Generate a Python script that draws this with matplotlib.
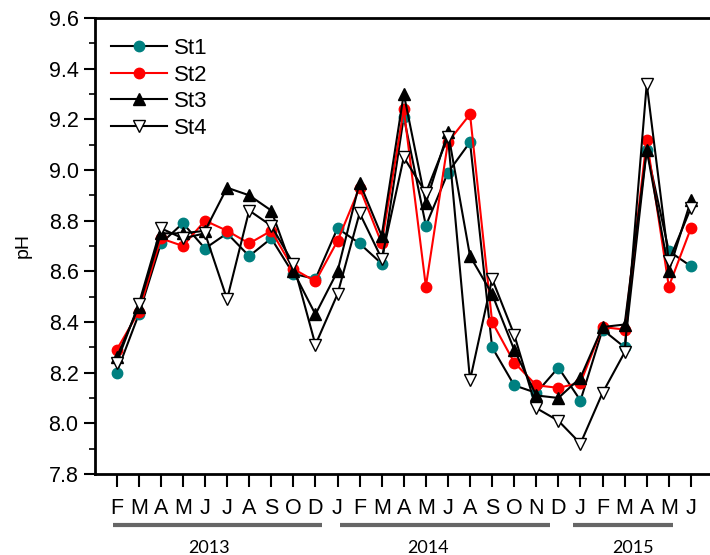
"""
Monthly pH at four stations (St1-St4), Feb 2013 to Jun 2015.
"""

import matplotlib
matplotlib.use("Agg")
import matplotlib.pyplot as plt
import matplotlib.transforms as mtransforms
from matplotlib.ticker import MultipleLocator

plt.rcParams["font.family"] = ["Liberation Sans", "DejaVu Sans"]

# Month labels along the x axis (Feb 2013 .. Jun 2015 as printed)
months = ["F", "M", "A", "M", "J", "J", "A", "S", "O", "D",
          "J", "F", "M", "A", "M", "J", "A", "S", "O", "N", "D",
          "J", "F", "M", "A", "M", "J"]

st1 = [8.20, 8.43, 8.71, 8.79, 8.69, 8.75, 8.66, 8.73, 8.59, 8.57,
       8.77, 8.71, 8.63, 9.21, 8.78, 8.99, 9.11, 8.30, 8.15, 8.12, 8.22,
       8.09, 8.37, 8.30, 9.08, 8.68, 8.62]
st2 = [8.29, 8.44, 8.73, 8.70, 8.80, 8.76, 8.71, 8.76, 8.61, 8.56,
       8.72, 8.93, 8.71, 9.24, 8.54, 9.11, 9.22, 8.40, 8.24, 8.15, 8.14,
       8.16, 8.38, 8.37, 9.12, 8.54, 8.77]
st3 = [8.26, 8.46, 8.75, 8.75, 8.76, 8.93, 8.90, 8.84, 8.60, 8.43,
       8.60, 8.95, 8.74, 9.30, 8.87, 9.15, 8.66, 8.51, 8.29, 8.11, 8.10,
       8.18, 8.38, 8.39, 9.08, 8.60, 8.88]
st4 = [8.24, 8.47, 8.77, 8.73, 8.75, 8.49, 8.84, 8.78, 8.63, 8.31,
       8.51, 8.83, 8.65, 9.05, 8.91, 9.13, 8.17, 8.57, 8.35, 8.06, 8.01,
       7.92, 8.12, 8.28, 9.34, 8.64, 8.85]

# Year groups: label and (first, last) month position of the underline
years = ["2013", "2014", "2015"]
year_spans = [(0.83, 10.3), (11.1, 20.6), (21.66, 26.2)]
year_centers = [5.2, 15.1, 24.4]

x = list(range(1, len(months) + 1))

fig = plt.figure(figsize=(7.10, 5.55), dpi=100)
ax = fig.add_axes([0.1332, 0.146, 0.871, 0.8216])

ax.plot(x, st1, color="black", lw=1.5, marker="o", ms=7.5,
        mfc="#008080", mec="#008080", label="St1", zorder=3)
ax.plot(x, st2, color="red", lw=1.5, marker="o", ms=7.5,
        mfc="red", mec="red", label="St2", zorder=3)
ax.plot(x, st3, color="black", lw=1.5, marker="^", ms=9,
        mfc="black", mec="black", label="St3", zorder=3)
ax.plot(x, st4, color="black", lw=1.5, marker="v", ms=9,
        mfc="white", mec="black", mew=1.0, label="St4", zorder=3)

ax.set_xlim(0, 28)
ax.set_ylim(7.8, 9.6)
ax.set_xticks(x)
ax.set_xticklabels(months, fontsize=15.5)
ax.yaxis.set_major_locator(MultipleLocator(0.2))
ax.yaxis.set_minor_locator(MultipleLocator(0.1))
ax.yaxis.set_major_formatter(plt.FuncFormatter(lambda v, p: f"{v:.1f}"))
ax.tick_params(axis="y", labelsize=15.5, direction="out", length=8, width=1.5)
ax.tick_params(axis="y", which="minor", direction="out", length=4, width=1.2)
ax.tick_params(axis="x", direction="out", length=9, width=1.5, pad=8)
ax.set_ylabel("pH", fontsize=14, labelpad=12)

for side in ["left", "bottom", "top", "right"]:
    ax.spines[side].set_linewidth(2)

leg = ax.legend(loc="upper left", frameon=False, fontsize=16,
                handlelength=2.5, handletextpad=0.3, labelspacing=0.25,
                bbox_to_anchor=(-0.005, 1.0))

# Year underlines and labels below the month ticks
trans = mtransforms.blended_transform_factory(ax.transData, ax.transAxes)
for label, (x0, x1), xc in zip(years, year_spans, year_centers):
    ax.plot([x0, x1], [-0.113, -0.113], color="#666666", lw=3,
            transform=trans, clip_on=False, solid_capstyle="butt")
    ax.text(xc, -0.163, label, transform=trans, ha="center", va="center",
            fontsize=13, family=["Lato", "DejaVu Sans"])

fig.savefig("out.png", dpi=100)
